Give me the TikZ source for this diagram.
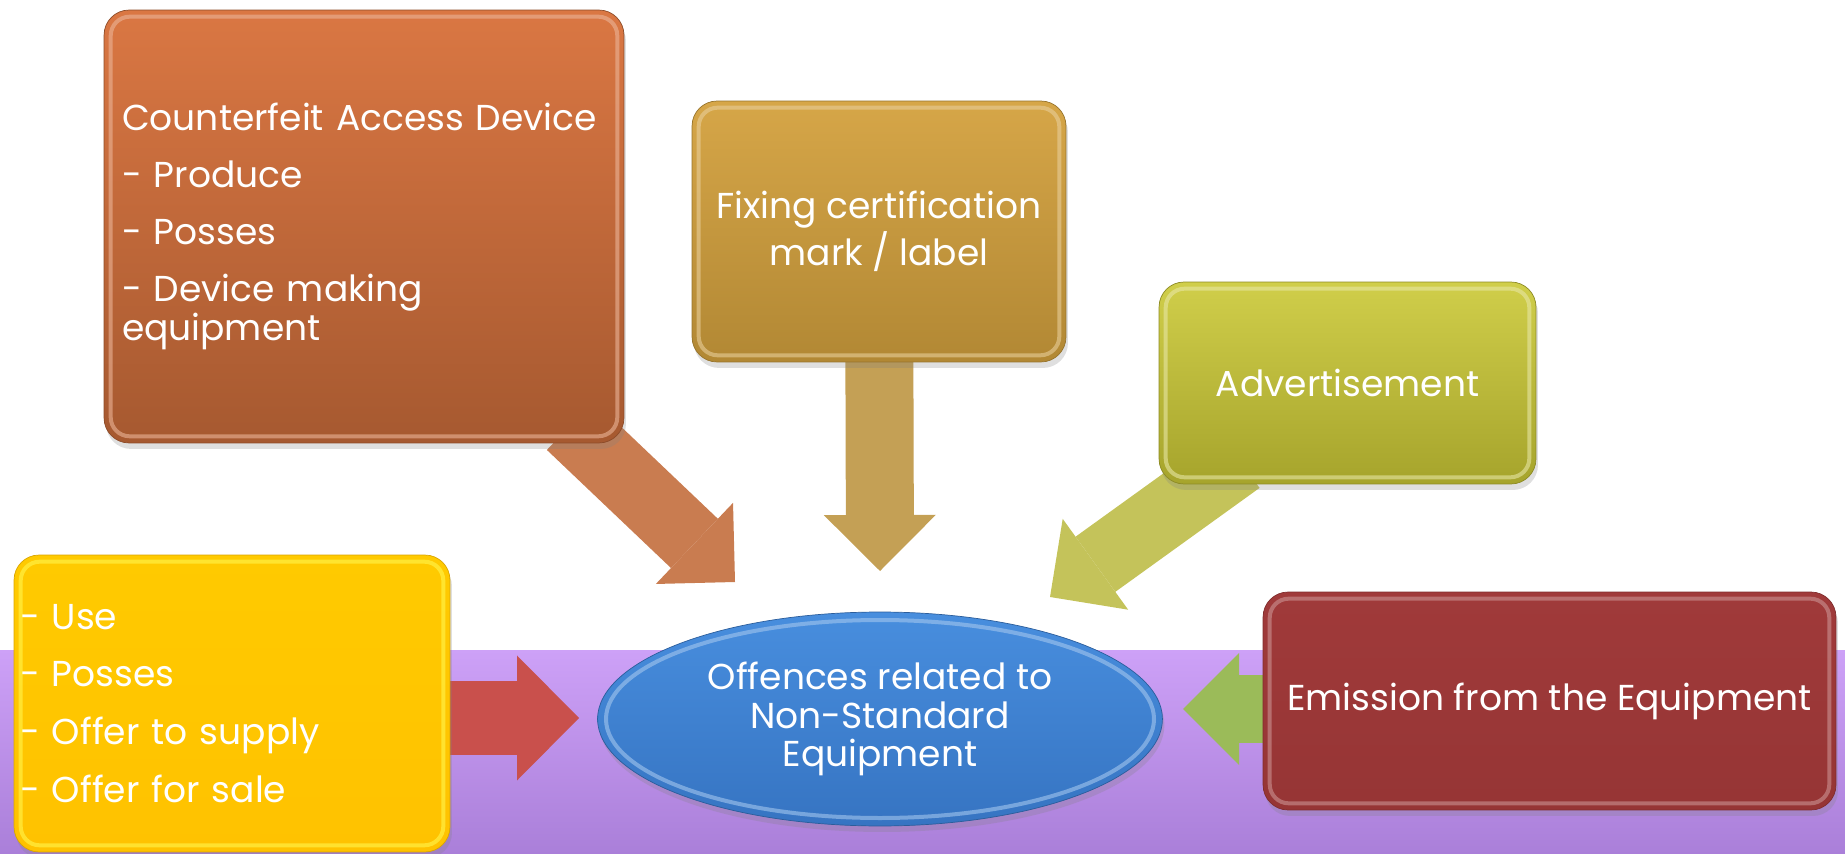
\documentclass[tikz,border=0pt]{standalone}
\usepackage{fontspec}
\setmainfont{Poppins}
\usetikzlibrary{shapes.geometric}
\usetikzlibrary{positioning}
\usetikzlibrary{arrows.meta}
\usetikzlibrary{shadows}
\usetikzlibrary{backgrounds}
\definecolor{cadtop}{RGB}{218,119,67}
\definecolor{cadbot}{RGB}{166,89,48}
\definecolor{fixtop}{RGB}{214,166,72}
\definecolor{fixbot}{RGB}{178,136,52}
\definecolor{advtop}{RGB}{208,206,74}
\definecolor{advbot}{RGB}{166,164,44}
\definecolor{usetop}{RGB}{255,202,0}
\definecolor{usebot}{RGB}{255,194,0}
\definecolor{emitop}{RGB}{160,58,58}
\definecolor{emibot}{RGB}{150,53,53}
\definecolor{elltop}{RGB}{72,142,222}
\definecolor{ellbot}{RGB}{54,116,194}
\definecolor{bandtop}{RGB}{205,161,247}
\definecolor{bandbot}{RGB}{170,127,217}
\definecolor{arrcad}{RGB}{201,124,80}
\definecolor{arrfix}{RGB}{196,160,85}
\definecolor{arradv}{RGB}{196,195,90}
\definecolor{arruse}{RGB}{201,80,76}
\definecolor{arremi}{RGB}{155,187,89}
\tikzset{
    mybox/.style = {rectangle, rounded corners=0.5cm, inner sep=0pt, align=center, text=white,
        font=\fontsize{20.5pt}{21pt}\selectfont,
        drop shadow={opacity=.25, shadow xshift=0.04cm, shadow yshift=-0.12cm}},
    boxcad/.style = {mybox, top color=cadtop, bottom color=cadbot, draw=cadbot!85!black},
    boxfix/.style = {mybox, top color=fixtop, bottom color=fixbot, draw=fixbot!85!black},
    boxadv/.style = {mybox, top color=advtop, bottom color=advbot, draw=advbot!85!black},
    boxuse/.style = {mybox, top color=usetop, bottom color=usebot, draw=usebot!85!black},
    boxemi/.style = {mybox, top color=emitop, bottom color=emibot, draw=emibot!85!black},
    myell/.style = {ellipse, inner sep=0pt, align=center, text=white,
        top color=elltop, bottom color=ellbot, draw=ellbot!80!black,
        font=\fontsize{20.5pt}{21pt}\selectfont,
        drop shadow={opacity=.25, shadow xshift=0.04cm, shadow yshift=-0.12cm}},
    rim/.style = {draw=#1, line width=0.08cm, rounded corners=0.38cm, opacity=.6},
    fatarrow/.style = {draw=#1, line width=1.36cm, -{Triangle[length=1.12cm, width=2.24cm, line width=0pt]}},
    fatarrowbig/.style = {draw=#1, line width=1.5cm, -{Triangle[length=1.24cm, width=2.5cm, line width=0pt]}}
}

\begin{document}
\begin{tikzpicture}[x=0.02cm, y=-0.02cm]
\useasboundingbox (0,0) rectangle (1845,854);

% boxes
\node[boxcad, minimum width=10.4cm, minimum height=8.66cm, text width=9.68cm, inner xsep=0.36cm, align=left]
    at (364,226.5) (cad) {Counterfeit Access Device\\[0.4cm]
    - Produce\\[0.4cm]
    - Posses\\[0.4cm]
    - Device making\\
    equipment};
\node[boxfix, minimum width=7.48cm, minimum height=5.22cm] at (879,231.5) (fix) {Fixing certification\\[0.04cm] mark / label};
\node[boxadv, minimum width=7.54cm, minimum height=4.04cm] at (1347.5,383) (adv) {Advertisement};
\node[boxuse, minimum width=8.72cm, minimum height=5.94cm, text width=8.48cm, inner xsep=0.12cm, align=left]
    at (232,703.5) (use) {- Use\\[0.42cm]
    - Posses\\[0.42cm]
    - Offer to supply\\[0.42cm]
    - Offer for sale};
\node[boxemi, minimum width=11.46cm, minimum height=4.36cm] at (1549.5,701) (emi) {Emission from the Equipment};
\node[myell, minimum width=11.3cm, minimum height=4.28cm] at (880,719) (ell) {Offences related to\\[0.03cm] Non-Standard\\[0.03cm] Equipment};

% bevel rims
\foreach \b/\c in {cad/cadtop!55!white, fix/fixtop!55!white, adv/advtop!50!white, use/yellow!70!white, emi/emitop!55!white}
    \draw[rim=\c] ([shift={(7,7)}]\b.north west) rectangle ([shift={(-7,-7)}]\b.south east);
\draw[rim=elltop!50!white] (ell.center) ellipse [x radius=274, y radius=99];

% arrow tips
\coordinate (cadtip) at (735,582);
\coordinate (fixtip) at (880,571);
\coordinate (advtip) at (1050,597);
\coordinate (usetip) at (579,718);
\coordinate (emitip) at (1183,709);

\begin{scope}[on background layer]
\fill[top color=bandtop, bottom color=bandbot] (0,650) rectangle (1845,854);
\draw[fatarrow=arrcad] ([shift={(-54,-18)}]cad.south east) -- (cadtip);
\draw[fatarrow=arrfix] (fix.center) -- (fixtip);
\draw[fatarrow=arradv] ([shift={(81,-24)}]adv.south west) -- (advtip);
\draw[fatarrowbig=arruse] (use.center |- usetip) -- (usetip);
\draw[fatarrow=arremi] (emi.center |- emitip) -- (emitip);
\end{scope}

\end{tikzpicture}
\end{document}
